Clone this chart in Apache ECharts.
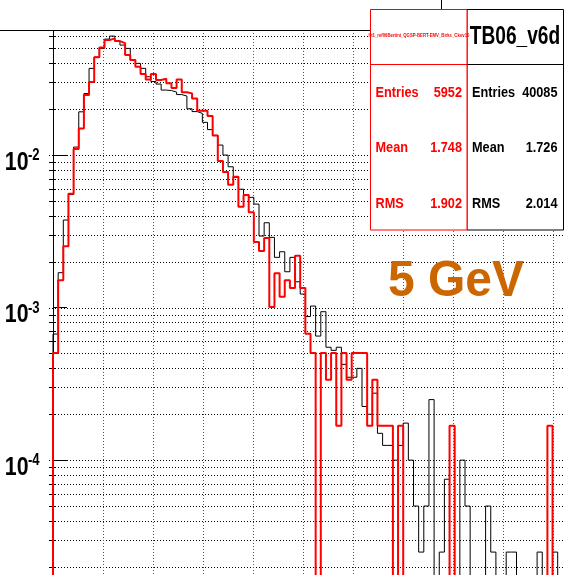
<!DOCTYPE html>
<html><head><meta charset="utf-8">
<script src="https://cdn.jsdelivr.net/npm/echarts@6/dist/echarts.min.js"></script>
<style>html,body{margin:0;padding:0;overflow:hidden;background:#fff;width:564px;height:575px}
#c{width:600px;height:613px}</style></head>
<body><div id="c"></div>
<script>
// ---- data ----
const binWidth = 0.103;   // x units per bin
const firstEdge = 0;
const blackValues = [
 6.70e-4, 1.692e-3, 3.749e-3, 5.508e-3, 1.128e-2, 1.922e-2, 2.531e-2, 3.702e-2, 4.392e-2, 5.008e-2,
 5.763e-2, 6.03e-2, 5.617e-2, 5.264e-2, 5.008e-2, 4.198e-2, 3.993e-2, 3.702e-2, 3.262e-2, 3.034e-2,
 2.922e-2, 2.668e-2, 2.649e-2, 2.589e-2, 2.493e-2, 2.437e-2, 2.012e-2, 1.928e-2, 1.877e-2, 1.639e-2,
 1.469e-2, 1.346e-2, 1.163e-2, 1.0e-2, 8.38e-3, 7.14e-3, 5.97e-3, 5.51e-3, 5.28e-3, 4.77e-3,
 2.943e-3, 3.598e-3, 2.886e-3, 2.134e-3, 2.322e-3, 1.717e-3, 2.134e-3, 1.476e-3, 1.226e-3, 8.73e-4,
 1.023e-3, 6.50e-4, 9.39e-4, 5.49e-4, 5.24e-4, 5.49e-4, 4.24e-4, 3.49e-4, 3.49e-4, 3.99e-4,
 2.245e-4, 1.996e-4, 2.744e-4, 1.497e-4, 1.247e-4, 1.247e-4, 9.98e-5, 1.247e-4, 1.746e-4, 9.98e-5,
 4.99e-5, 2.49e-5, 4.99e-5, 2.49e-4, 0, 2.49e-5, 7.48e-5, 0, 0, 9.98e-5,
 4.99e-5, 0, 0, 0, 4.99e-5, 2.49e-5, 0, 0, 2.49e-5, 2.49e-5,
 0, 0, 0, 0, 2.49e-5, 0, 0, 2.49e-5, 0, 0
];
const redValues = [
 5.04e-4, 1.51e-3, 2.52e-3, 5.57e-3, 1.095e-2, 1.496e-2, 2.474e-2, 3.011e-2, 4.378e-2, 5.068e-2,
 5.676e-2, 5.823e-2, 5.591e-2, 5.425e-2, 4.525e-2, 4.198e-2, 3.793e-2, 3.398e-2, 3.136e-2, 3.398e-2,
 3.103e-2, 3.164e-2, 2.953e-2, 2.758e-2, 3.136e-2, 2.581e-2, 2.539e-2, 2.353e-2, 1.949e-2, 1.949e-2,
 1.802e-2, 1.342e-2, 9.13e-3, 7.74e-3, 6.39e-3, 7.21e-3, 4.58e-3, 5.47e-3, 4.21e-3, 2.69e-3,
 2.35e-3, 2.86e-3, 1.008e-3, 1.68e-3, 1.176e-3, 1.512e-3, 1.344e-3, 2.184e-3, 1.344e-3, 6.72e-4,
 5.04e-4, 0, 5.04e-4, 3.36e-4, 5.04e-4, 1.68e-4, 5.04e-4, 3.36e-4, 5.04e-4, 5.04e-4,
 5.04e-4, 1.68e-4, 3.36e-4, 1.68e-4, 1.68e-4, 1.68e-4, 0, 1.68e-4, 0, 0,
 0, 0, 0, 0, 0, 0, 0, 1.68e-4, 0, 0,
 0, 0, 0, 0, 0, 0, 0, 0, 0, 0,
 0, 0, 0, 0, 0, 0, 1.68e-4, 0, 0, 0
];
const xGridValues = [1, 2, 3, 4, 5, 6, 7, 8, 9, 10];
const yDecades = [1e-5, 1e-4, 1e-3, 1e-2];
const minorMultipliers = [2, 3, 4, 5, 6, 7, 8, 9];
const yLabelExponents = ['-4', '-3', '-2'];
const redStats = [['Entries', '5952'], ['Mean', '1.748'], ['RMS', '1.902']];
const blackStats = [['Entries', '40085'], ['Mean', '1.726'], ['RMS', '2.014']];
const redTitle = 'ht1_ref06Bertini_QGSP-BERT-EMV_Birks_Ckov10';
const blackTitle = 'TB06_v6d';
const energyText = '5 GeV';

// ---- layout ----
const X_MIN = -0.08, X_MAX = 10.92, Y_MIN = 1e-5, Y_MAX = 0.0661, FLOOR = 1e-7;
const FONT = '"Liberation Sans", Arial, Helvetica, sans-serif';
const NARROW = 0.82;

function stepPoints(vals) {
  const pts = [[firstEdge, FLOOR]];
  vals.forEach((v, i) => pts.push([firstEdge + i * binWidth, v > 0 ? v : FLOOR]));
  const last = vals[vals.length - 1];
  pts.push([firstEdge + vals.length * binWidth, last > 0 ? last : FLOOR]);
  return pts;
}

const hGridValues = [];
const minorTickValues = [];
yDecades.forEach(d => {
  [1].concat(minorMultipliers).forEach(m => {
    const v = m * d;
    if (v <= Y_MAX && v >= Y_MIN) {
      hGridValues.push(v);
      if (m > 1) minorTickValues.push(v);
    }
  });
});

function txt(x, y, text, o) {
  return {
    type: 'text', x: x, y: y, scaleX: o.sx || 1, z: 300,
    style: {
      text: text, fill: o.color || '#000',
      font: (o.weight || 'bold') + ' ' + o.size + 'px ' + FONT,
      textAlign: o.align || 'left', align: o.align || 'left',
      textVerticalAlign: 'middle', verticalAlign: 'middle'
    }
  };
}

const rowY = [93, 148, 204];
const graphics = [
  { type: 'rect', z: 100, shape: { x: -5, y: -40, width: 446.5, height: 70.5 },
    style: { fill: '#fff', stroke: '#000', lineWidth: 1 } },
  { type: 'rect', z: 200, shape: { x: 467, y: 9.5, width: 96.5, height: 220.5 },
    style: { fill: '#fff', stroke: '#000', lineWidth: 1 } },
  { type: 'line', z: 201, shape: { x1: 467, y1: 64.5, x2: 563.5, y2: 64.5 }, style: { stroke: '#000', lineWidth: 1 } },
  { type: 'rect', z: 210, shape: { x: 370.5, y: 9.5, width: 96.5, height: 220.5 },
    style: { fill: '#fff', stroke: '#ff0000', lineWidth: 1 } },
  { type: 'line', z: 211, shape: { x1: 370.5, y1: 64.5, x2: 467, y2: 64.5 }, style: { stroke: '#ff0000', lineWidth: 1 } },
  txt(419, 36, redTitle, { size: 5, color: '#ff0000', align: 'center', sx: 0.85 }),
  txt(515, 37, blackTitle, { size: 25.5, weight: 'bold', align: 'center', sx: 0.75 }),
  txt(388, 282, energyText, { size: 50, color: '#cc6600', sx: 0.96 })
];
redStats.forEach((r, i) => {
  graphics.push(txt(375.5, rowY[i], r[0], { size: 15.5, color: '#ff0000', sx: NARROW }));
  graphics.push(txt(462, rowY[i], r[1], { size: 15.5, color: '#ff0000', align: 'right', sx: NARROW }));
});
blackStats.forEach((r, i) => {
  graphics.push(txt(472, rowY[i], r[0], { size: 15.5, sx: NARROW }));
  graphics.push(txt(557.5, rowY[i], r[1], { size: 15.5, align: 'right', sx: NARROW }));
});

function lineSeries(name, data, z, render) {
  return { name: name, type: 'custom', z: z, silent: true, clip: false, data: data, renderItem: render };
}

const chart = echarts.init(document.getElementById('c'), null, { renderer: 'canvas' });
chart.setOption({
  animation: false,
  backgroundColor: '#fff',
  grid: { left: 49, top: 30, width: (X_MAX - X_MIN) * 50, height: 582.5, containLabel: false },
  xAxis: { type: 'value', min: X_MIN, max: X_MAX, show: false },
  yAxis: {
    type: 'log', logBase: 10, min: Y_MIN, max: Y_MAX,
    axisLine: { show: true, lineStyle: { color: '#000', width: 1 } },
    axisTick: { show: true, inside: true, length: 14, lineStyle: { color: '#000', width: 1 } },
    splitLine: { show: false },
    axisLabel: { show: false }
  },
  series: [
    lineSeries('hgrid', hGridValues.map(v => [X_MIN, v]), 1, function (p, api) {
      const a = api.coord([X_MIN, api.value(1)]), b = api.coord([X_MAX, api.value(1)]);
      const y = Math.round(a[1]) + 0.5;
      return { type: 'line', shape: { x1: a[0], y1: y, x2: b[0], y2: y },
               style: { stroke: '#000', lineWidth: 1, lineDash: [1, 2] } };
    }),
    lineSeries('vgrid', xGridValues.map(x => [x, Y_MAX]), 1, function (p, api) {
      const a = api.coord([api.value(0), Y_MAX]), b = api.coord([api.value(0), Y_MIN]);
      const x = Math.round(a[0]) + 0.5;
      return { type: 'line', shape: { x1: x, y1: a[1], x2: x, y2: b[1] },
               style: { stroke: '#555', lineWidth: 1, lineDash: [1, 2] } };
    }),
    lineSeries('minorTicks', minorTickValues.map(v => [X_MIN, v]), 3, function (p, api) {
      const a = api.coord([X_MIN, api.value(1)]);
      const y = Math.round(a[1]) + 0.5;
      return { type: 'line', shape: { x1: a[0], y1: y, x2: a[0] + 7, y2: y },
               style: { stroke: '#000', lineWidth: 1 } };
    }),
    {
      name: 'TB06_v6d', type: 'line', step: 'end', showSymbol: false, symbol: 'none', z: 4,
      lineStyle: { color: '#000', width: 1 }, data: stepPoints(blackValues)
    },
    {
      name: 'ref06', type: 'line', step: 'end', showSymbol: false, symbol: 'none', z: 5,
      lineStyle: { color: '#ff0000', width: 2 }, data: stepPoints(redValues)
    }
  ]
});

// y-axis labels 10^n placed with the axis scale
yLabelExponents.forEach(e => {
  const y = chart.convertToPixel({ yAxisIndex: 0 }, Math.pow(10, Number(e)));
  graphics.push(txt(28.5, y + 7.5, '10', { size: 26, sx: NARROW, align: 'right' }));
  graphics.push(txt(28, y + 1, e, { size: 16, sx: NARROW }));
});
chart.setOption({ graphic: graphics });
</script></body></html>
